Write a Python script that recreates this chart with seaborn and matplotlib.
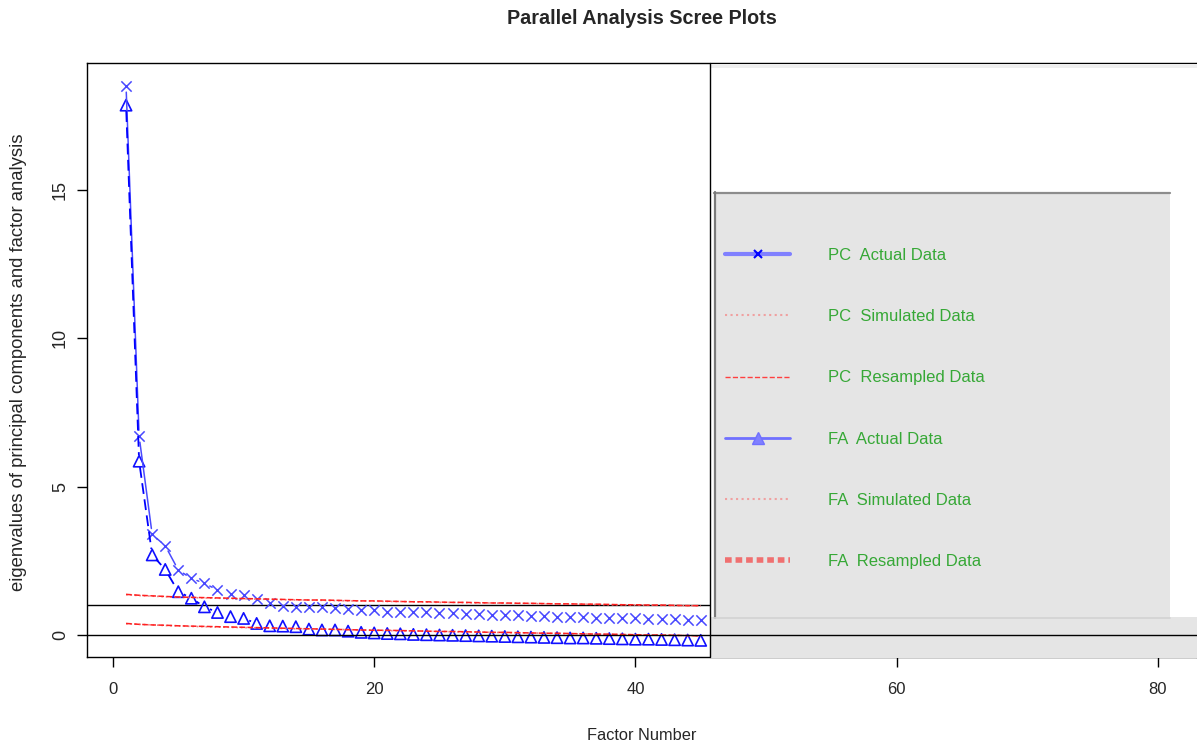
import numpy as np
import matplotlib
matplotlib.use("Agg")
import matplotlib.pyplot as plt
from matplotlib.lines import Line2D
from matplotlib.patches import Rectangle
import seaborn as sns

# factor numbers that are visible (the rest is hidden under the legend panel)
factors = list(range(1, 46))

pc_actual = [18.5, 6.7, 3.39, 3.01, 2.19, 1.91, 1.74, 1.52, 1.37, 1.35,
             1.21, 1.07, 0.99, 0.95, 0.93, 0.93, 0.90, 0.87, 0.84, 0.84,
             0.79, 0.79, 0.78, 0.76, 0.74, 0.73, 0.71, 0.70, 0.68, 0.67,
             0.66, 0.64, 0.63, 0.62, 0.61, 0.60, 0.59, 0.58, 0.57, 0.56,
             0.55, 0.54, 0.53, 0.52, 0.50]
fa_actual = [17.86, 5.86, 2.70, 2.21, 1.46, 1.24, 0.95, 0.76, 0.62, 0.56,
             0.39, 0.31, 0.30, 0.28, 0.20, 0.17, 0.17, 0.13, 0.09, 0.07,
             0.05, 0.04, 0.02, 0.01, 0.00, -0.01, -0.02, -0.03, -0.04, -0.05,
             -0.06, -0.07, -0.08, -0.09, -0.10, -0.10, -0.11, -0.12, -0.13, -0.14,
             -0.14, -0.15, -0.16, -0.17, -0.18]
pc_resampled = [1.37, 1.34, 1.32, 1.30, 1.28, 1.27, 1.26, 1.25, 1.24, 1.23,
                1.22, 1.21, 1.20, 1.19, 1.18, 1.18, 1.17, 1.16, 1.15, 1.15,
                1.14, 1.13, 1.12, 1.12, 1.11, 1.10, 1.10, 1.09, 1.08, 1.08,
                1.07, 1.07, 1.06, 1.05, 1.05, 1.04, 1.04, 1.03, 1.02, 1.02,
                1.01, 1.01, 1.00, 0.99, 0.99]
pc_simulated = [1.36, 1.33, 1.31, 1.29, 1.28, 1.26, 1.25, 1.24, 1.23, 1.22,
                1.21, 1.20, 1.19, 1.18, 1.18, 1.17, 1.16, 1.15, 1.15, 1.14,
                1.13, 1.13, 1.12, 1.11, 1.10, 1.10, 1.09, 1.08, 1.08, 1.07,
                1.07, 1.06, 1.05, 1.05, 1.04, 1.04, 1.03, 1.02, 1.02, 1.01,
                1.01, 1.00, 0.99, 0.99, 0.98]
fa_resampled = [0.39, 0.36, 0.34, 0.33, 0.31, 0.30, 0.29, 0.28, 0.27, 0.26,
                0.25, 0.24, 0.23, 0.22, 0.21, 0.20, 0.19, 0.18, 0.17, 0.16,
                0.16, 0.15, 0.14, 0.13, 0.12, 0.12, 0.11, 0.10, 0.09, 0.09,
                0.08, 0.07, 0.06, 0.06, 0.05, 0.04, 0.03, 0.03, 0.02, 0.01,
                0.00, 0.00, -0.01, -0.02, -0.03]
fa_simulated = [0.38, 0.36, 0.34, 0.32, 0.31, 0.29, 0.28, 0.27, 0.26, 0.25,
                0.24, 0.23, 0.22, 0.21, 0.21, 0.20, 0.19, 0.18, 0.17, 0.16,
                0.15, 0.14, 0.14, 0.13, 0.12, 0.11, 0.10, 0.10, 0.09, 0.08,
                0.07, 0.07, 0.06, 0.05, 0.04, 0.04, 0.03, 0.02, 0.01, 0.01,
                0.00, -0.01, -0.01, -0.02, -0.03]

x_ticks = [0, 20, 40, 60, 80]
y_ticks = [0, 5, 10, 15]
legend_labels = ["PC  Actual Data", "PC  Simulated Data", "PC  Resampled Data",
                 "FA  Actual Data", "FA  Simulated Data", "FA  Resampled Data"]

W, H = 1197, 747
sns.set_style("white")
plt.rcParams['font.family'] = ['Liberation Sans', 'DejaVu Sans']


def fig_rect(x0, y0, x1, y1):
    # pixel box (top-left origin) -> figure fraction rect
    return (x0 / W, 1 - y1 / H, (x1 - x0) / W, (y1 - y0) / H)


def add_box(ax, x0, y0, x1, y1, color, z=8):
    r = fig_rect(x0, y0, x1, y1)
    ax.add_patch(Rectangle(r[:2], r[2], r[3], transform=ax.figure.transFigure,
                           facecolor=color, edgecolor="none", zorder=z, clip_on=False))


def add_seg(ax, x0, y0, x1, y1, color, lw, z=9):
    ax.add_line(Line2D([x0 / W, x1 / W], [1 - y0 / H, 1 - y1 / H],
                       transform=ax.figure.transFigure, color=color, lw=lw,
                       zorder=z, clip_on=False))


def gapped_line(ax, x, y, gap=6, **kw):
    # R style type="b": segments that stop short of the points
    pts = ax.transData.transform(np.column_stack([x, y]))
    inv = ax.transData.inverted()
    for p0, p1 in zip(pts[:-1], pts[1:]):
        d = p1 - p0
        length = np.hypot(*d)
        if length <= 2 * gap + 2:
            continue
        a = p0 + d / length * gap
        b = p1 - d / length * gap
        seg = inv.transform(np.array([a, b]))
        ax.plot(seg[:, 0], seg[:, 1], **kw)


fig = plt.figure(figsize=(W / 100, H / 100), dpi=100)
ax = fig.add_axes(fig_rect(87, 63, 1197, 657))
ax.set_xlim(-1.99, 83.0)
ax.set_ylim(-0.741, 19.28)

# reference lines
ax.axhline(1, color="black", lw=1, zorder=1)
ax.axhline(0, color="black", lw=1, zorder=12)

# simulated / resampled eigenvalues
sns.lineplot(x=factors, y=pc_simulated, ax=ax, color="#f08080", linestyle=":", lw=1.2)
sns.lineplot(x=factors, y=pc_resampled, ax=ax, color="#ff2020", linestyle="--", lw=1.1)
sns.lineplot(x=factors, y=fa_simulated, ax=ax, color="#f08080", linestyle=":", lw=1.2)
sns.lineplot(x=factors, y=fa_resampled, ax=ax, color="#ff2020", linestyle="--", lw=1.1)

# actual data
gapped_line(ax, factors, pc_actual, color="#4a4aff", lw=1.1)
gapped_line(ax, factors, fa_actual, color="#0000ff", lw=1.3, linestyle=(0, (6, 3)))
sns.scatterplot(x=factors, y=pc_actual, ax=ax, marker="x", color="#4848ff", s=55, linewidth=1.1)
sns.scatterplot(x=factors, y=fa_actual, ax=ax, marker="^", facecolor="none",
                edgecolor="#1010ff", s=66, linewidth=1.2)

ax.set_xticks(x_ticks)
ax.set_yticks(y_ticks)
ax.tick_params(axis="both", direction="out", length=7, width=1, color="black",
               bottom=True, left=True)
ax.tick_params(axis="x", labelsize=12, pad=11)
ax.tick_params(axis="y", labelsize=13, pad=6)
for lab in ax.get_yticklabels():
    lab.set_rotation(90)
    lab.set_va("center")
for s in ax.spines.values():
    s.set_color("black")
    s.set_linewidth(1)

fig.text(642 / W, 1 - 736 / H, "Factor Number", ha="center", va="center", fontsize=11.8)
fig.text(19 / W, 1 - 362 / H, "eigenvalues of principal components and factor analysis",
         ha="center", va="center", rotation=90, fontsize=13.3)
fig.text(642 / W, 1 - 19 / H, "Parallel Analysis Scree Plots", ha="center", va="center",
         fontsize=14.2, fontweight="bold")

# pasted legend panel covering the right part of the plot
add_box(ax, 711, 64, 1197, 617, "white")
add_box(ax, 711, 64, 1197, 68, "#eeeeee")
add_box(ax, 711, 617, 1197, 658, "#e5e5e5")
add_box(ax, 714, 192, 1170, 618, "#e5e5e5")
add_seg(ax, 710, 63, 710, 657, "black", 1)
add_seg(ax, 714, 192.5, 1170, 192.5, "#8c8c8c", 1.6)
add_seg(ax, 715, 192, 715, 618, "#7a7a7a", 1.6)
add_seg(ax, 714, 617.5, 1170, 617.5, "#d2d2d2", 1.2)

handles = [
    Line2D([], [], color="#8080ff", lw=3, marker="x", markersize=6, mec="#0000ff", mew=1.5),
    Line2D([], [], color="#f0a0a0", lw=1.5, linestyle=":"),
    Line2D([], [], color="#ff4040", lw=1, linestyle="--"),
    Line2D([], [], color="#7070ff", lw=2, marker="^", markersize=8, mfc="#8080ff", mec="#7070ff"),
    Line2D([], [], color="#f0a0a0", lw=1.5, linestyle=":"),
    Line2D([], [], color="#f07070", lw=4, linestyle=(0, (1.2, 0.7))),
]
anchor = (725 / W, 1 - 248 / H)
leg = ax.legend(handles, legend_labels, loc="upper left", bbox_to_anchor=anchor,
                bbox_transform=fig.transFigure, ncols=1,
                fontsize=12, labelcolor="#36a836", frameon=False,
                borderpad=0, labelspacing=2.77, handlelength=3.9, handletextpad=2.28,
                borderaxespad=0)
leg.set_zorder(20)

fig.savefig("out.png", dpi=100)
